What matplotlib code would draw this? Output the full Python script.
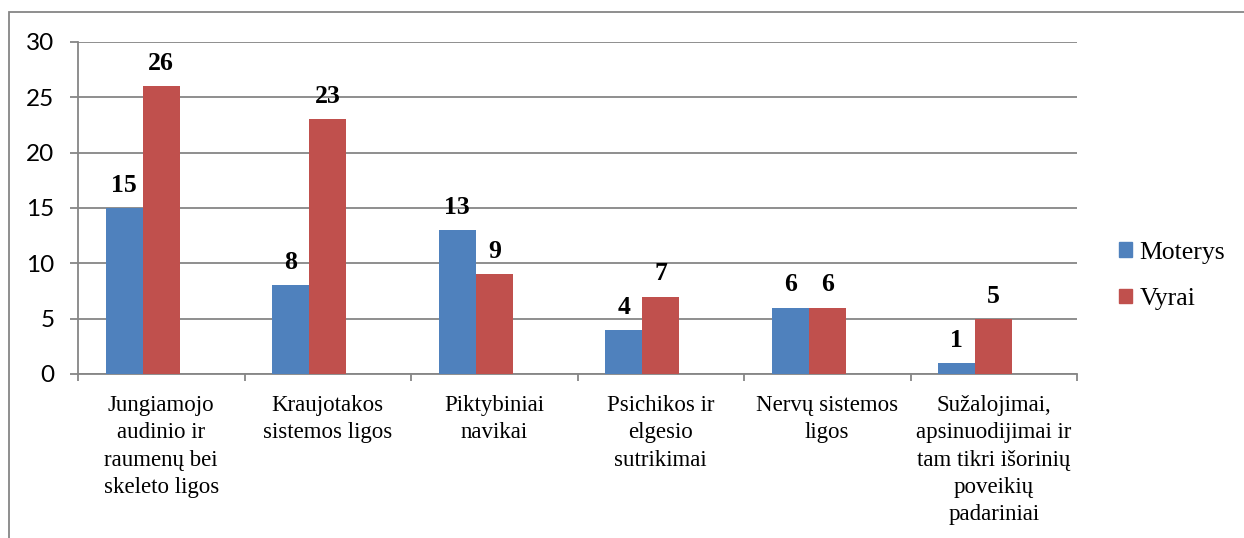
import matplotlib.pyplot as plt
from matplotlib.patches import Rectangle, Patch

plt.rcParams['font.family'] = ['Liberation Serif', 'DejaVu Serif']

categories = [
    'Jungiamojo\naudinio ir\nraumenų bei\nskeleto ligos',
    'Kraujotakos\nsistemos ligos',
    'Piktybiniai\nnavikai',
    'Psichikos ir\nelgesio\nsutrikimai',
    'Nervų sistemos\nligos',
    'Sužalojimai,\napsinuodijimai ir\ntam tikri išorinių\npoveikių\npadariniai',
]
moterys = [15, 8, 13, 4, 6, 1]
vyrai = [26, 23, 9, 7, 6, 5]
series_names = ['Moterys', 'Vyrai']
y_ticks = [0, 5, 10, 15, 20, 25, 30]

blue = '#4F81BD'
red = '#C0504D'
gray = '#868686'

W, H = 1244, 538
fig = plt.figure(figsize=(W / 100, H / 100), dpi=100)
ax = fig.add_axes([78 / W, (H - 374) / H, 999 / W, 332 / H])

# excel layout: 3 series slots (one empty), gap width 150%
w = 1 / 4.5
x = list(range(len(categories)))
ax.bar([i - w for i in x], moterys, width=w, color=blue, align='center', zorder=3)
ax.bar(x, vyrai, width=w, color=red, align='center', zorder=3)

for i in x:
    for xx, v in ((i - w, moterys[i]), (i, vyrai[i])):
        ax.annotate(str(v), (xx, v), xytext=(0, 8), textcoords='offset points',
                    ha='center', va='bottom', fontsize=18.5, fontweight='bold')

ax.set_xlim(-0.5, len(categories) - 0.5)
ax.set_ylim(0, 30)
ax.set_yticks(y_ticks)
ax.set_yticklabels([str(v) for v in y_ticks], family='Lato', fontsize=17.5)
ax.yaxis.grid(True, color=gray, lw=1.3, zorder=0)
for s in ('top', 'right'):
    ax.spines[s].set_visible(False)
for s in ('left', 'bottom'):
    ax.spines[s].set_color(gray)
    ax.spines[s].set_linewidth(1.3)
ax.tick_params(axis='y', length=6, width=1.3, color=gray, pad=11)

ax.set_xticks(x)
ax.set_xticklabels(categories, fontsize=16.5, linespacing=1.4)
ax.set_xticks([i - 0.5 for i in range(len(categories) + 1)], minor=True)
ax.tick_params(axis='x', which='major', length=0, pad=15)
ax.tick_params(axis='x', which='minor', length=5, width=1.3, color=gray)

handles = [Patch(color=blue), Patch(color=red)]
fig.legend(handles, series_names, loc='center left',
           bbox_to_anchor=(1119 / W, (H - 276) / H), frameon=False,
           borderaxespad=0, borderpad=0,
           prop={'size': 18.5},
           handlelength=0.5, handleheight=0.5, handletextpad=0.3,
           labelspacing=0.95)

fig.add_artist(Rectangle((9 / W, -0.1), 2, (H - 12) / H + 0.1,
                         transform=fig.transFigure, fill=False,
                         edgecolor=gray, lw=1.3))

fig.savefig('out.png', dpi=100)
